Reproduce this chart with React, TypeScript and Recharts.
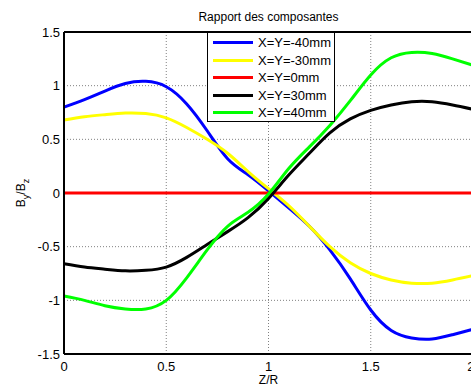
import {
  LineChart,
  Line,
  XAxis,
  YAxis,
  CartesianGrid,
  ReferenceLine,
} from "recharts";

// Z/R positions along the axis
const zr = [0, 0.1, 0.2, 0.3, 0.4, 0.5, 0.6, 0.7, 0.8, 0.9, 1.0, 1.1, 1.2, 1.3, 1.4, 1.5, 1.6, 1.7, 1.8, 1.9, 2.0];

// By/Bz for each offset
const xyMinus40 = [0.8, 0.87, 0.95, 1.02, 1.04, 0.99, 0.83, 0.58, 0.32, 0.17, 0.02, -0.14, -0.31, -0.53, -0.8, -1.09, -1.28, -1.35, -1.36, -1.32, -1.27];
const xyMinus30 = [0.68, 0.71, 0.73, 0.745, 0.74, 0.7, 0.61, 0.5, 0.37, 0.2, 0.04, -0.12, -0.31, -0.5, -0.65, -0.75, -0.81, -0.84, -0.84, -0.81, -0.77];
const xyZero = [0, 0, 0, 0, 0, 0, 0, 0, 0, 0, 0, 0, 0, 0, 0, 0, 0, 0, 0, 0, 0];
const xyPlus30 = [-0.66, -0.69, -0.71, -0.725, -0.72, -0.69, -0.6, -0.48, -0.36, -0.23, -0.05, 0.17, 0.37, 0.56, 0.69, 0.77, 0.82, 0.85, 0.85, 0.82, 0.78];
const xyPlus40 = [-0.96, -1.0, -1.05, -1.08, -1.08, -1.0, -0.79, -0.53, -0.31, -0.18, -0.01, 0.23, 0.43, 0.63, 0.86, 1.1, 1.26, 1.31, 1.3, 1.25, 1.19];

const seriesNames = ["X=Y=-40mm", "X=Y=-30mm", "X=Y=0mm", "X=Y=30mm", "X=Y=40mm"];
const seriesColors = ["#0000ff", "#ffff00", "#ff0000", "#000000", "#00ff00"];

const xTicks = [0, 0.5, 1, 1.5, 2];
const yTicks = [-1.5, -1, -0.5, 0, 0.5, 1, 1.5];

const values = [xyMinus40, xyMinus30, xyZero, xyPlus30, xyPlus40];
const keys = ["m40", "m30", "z0", "p30", "p40"];

const data = zr.map((z, i) => {
  const row: Record<string, number> = { z };
  keys.forEach((k, j) => {
    row[k] = values[j][i];
  });
  return row;
});

const font = "'Liberation Sans', Arial, sans-serif";

function LegendBox() {
  return (
    <div
      style={{
        position: "absolute",
        left: 207,
        top: 32,
        width: 126,
        height: 87,
        border: "1px solid #000",
        background: "#fff",
        fontFamily: font,
        fontSize: 13,
        paddingTop: 1,
        boxSizing: "content-box",
      }}
    >
      {seriesNames.map((name, i) => (
        <div
          key={name}
          style={{ display: "flex", alignItems: "center", height: 17.5 }}
        >
          <div
            style={{
              marginLeft: 5,
              width: 40,
              height: 3,
              background: seriesColors[i],
            }}
          />
          <span style={{ marginLeft: 5, color: "#000" }}>{name}</span>
        </div>
      ))}
    </div>
  );
}

function YLabel() {
  return (
    <text
      x={25}
      y={193}
      transform="rotate(-90 25 193)"
      textAnchor="middle"
      fontFamily={font}
      fontSize={12}
      fill="#000"
    >
      B<tspan dy={4} fontSize={9}>y</tspan>
      <tspan dy={-4}>/B</tspan>
      <tspan dy={4} fontSize={9}>z</tspan>
    </text>
  );
}

export default function App() {
  return (
    <div
      style={{
        position: "absolute",
        left: 0,
        top: 0,
        width: 471,
        height: 387,
        overflow: "hidden",
        background: "#fff",
      }}
    >
      <div
        style={{
          position: "absolute",
          left: 64,
          width: 409,
          top: 10,
          textAlign: "center",
          fontFamily: font,
          fontSize: 12,
          color: "#000",
        }}
      >
        Rapport des composantes
      </div>
      <LineChart
        width={474}
        height={387}
        data={data}
        margin={{ top: 32, right: 1, bottom: 0, left: 0 }}
      >
        <CartesianGrid stroke="#808080" strokeDasharray="1 2" />
        <XAxis
          dataKey="z"
          type="number"
          domain={[0, 2]}
          ticks={xTicks}
          height={33}
          tickSize={0}
          tickMargin={8}
          tickLine={false}
          axisLine={{ stroke: "#000", strokeWidth: 2 }}
          tick={{ fontSize: 13, fill: "#000", fontFamily: font }}
          label={{
            value: "Z/R",
            position: "insideBottom",
            offset: 3,
            fontSize: 12,
            fill: "#000",
            fontFamily: font,
          }}
        />
        <YAxis
          type="number"
          domain={[-1.5, 1.5]}
          ticks={yTicks}
          width={64}
          tickSize={0}
          tickMargin={4}
          tickLine={false}
          axisLine={{ stroke: "#000", strokeWidth: 2 }}
          tick={{ fontSize: 13, fill: "#000", fontFamily: font }}
          label={{ content: () => <YLabel /> }}
        />
        <ReferenceLine y={1.5} stroke="#000" strokeWidth={2} />
        <ReferenceLine x={2} stroke="#000" strokeWidth={2} />
        {keys.map((k, i) => (
          <Line
            key={k}
            dataKey={k}
            name={seriesNames[i]}
            type="natural"
            stroke={seriesColors[i]}
            strokeWidth={3}
            dot={false}
            isAnimationActive={false}
          />
        ))}
      </LineChart>
      <LegendBox />
    </div>
  );
}
